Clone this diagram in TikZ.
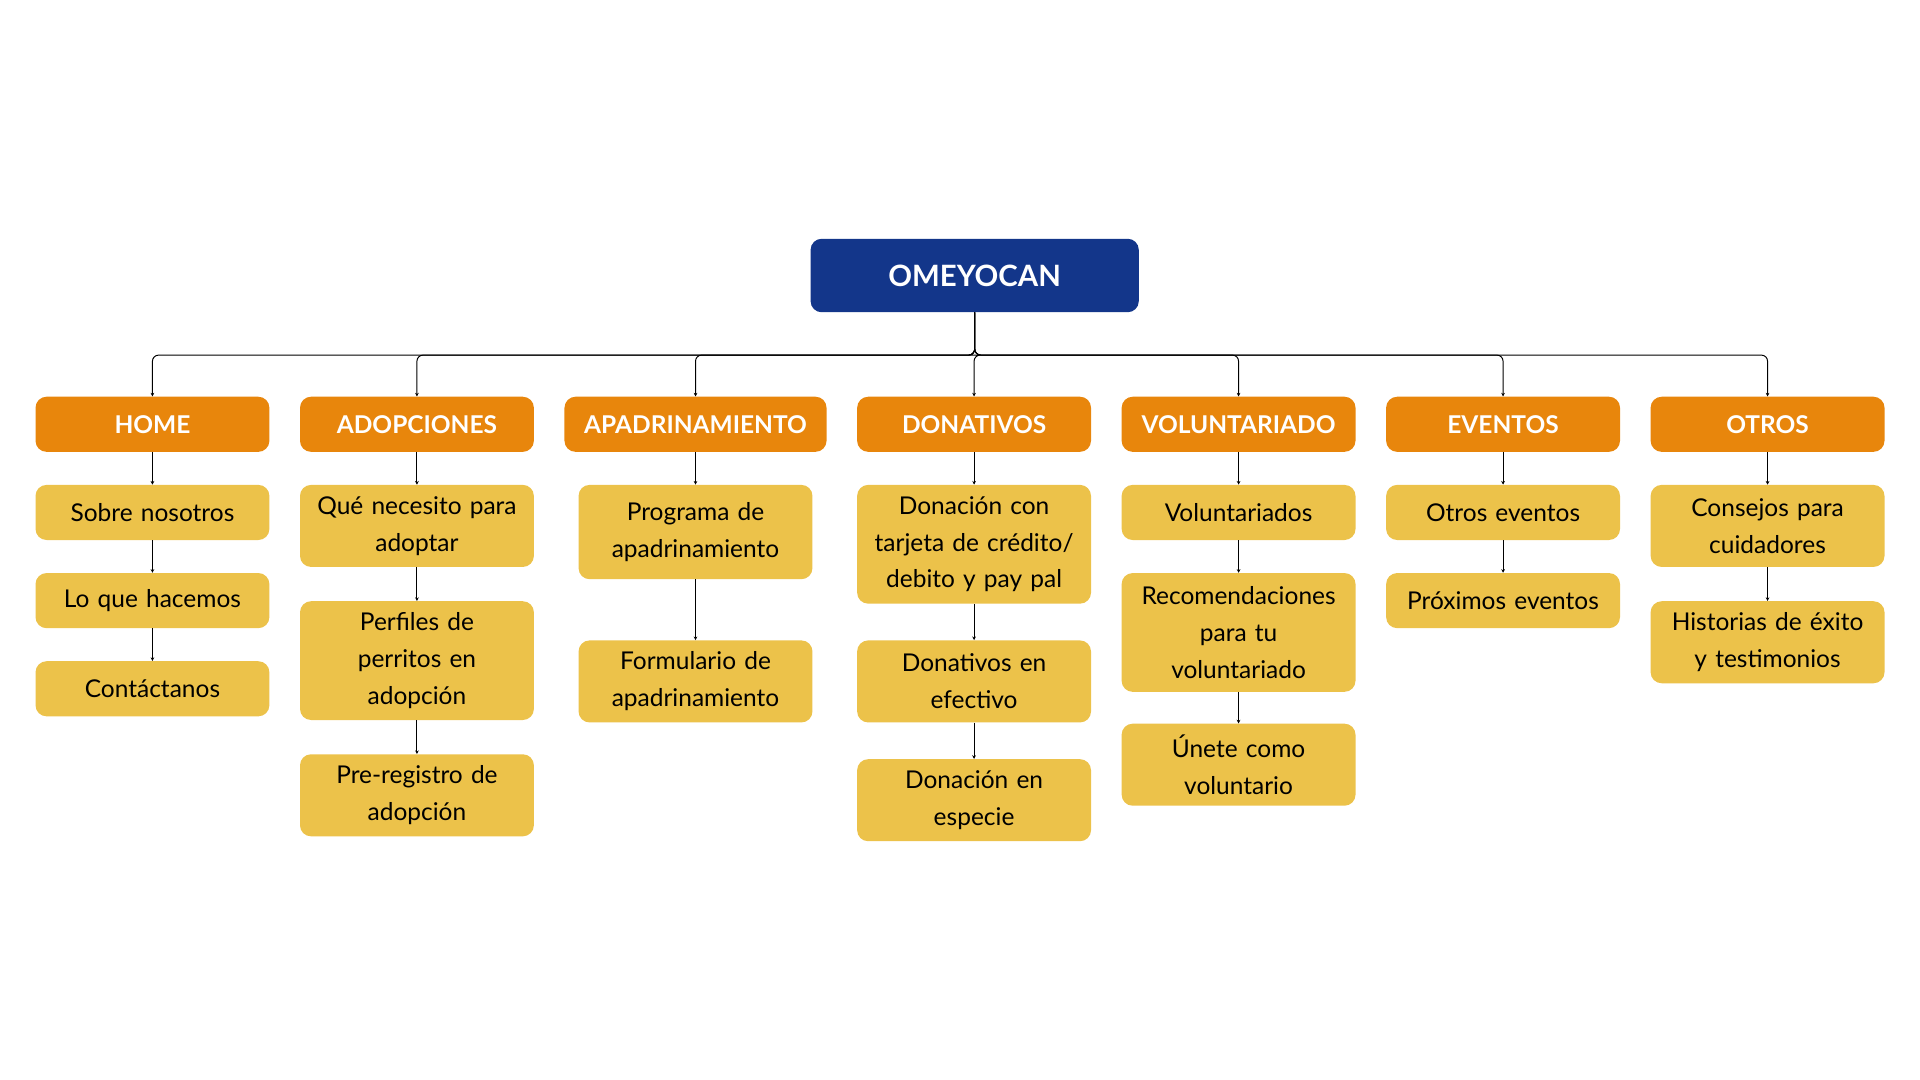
\documentclass[tikz,border=0pt]{standalone}
\usepackage{fontspec}
\setmainfont{Lato}
\usetikzlibrary{arrows.meta}
\definecolor{navy}{HTML}{13368A}
\definecolor{org}{HTML}{E8860C}
\definecolor{yel}{HTML}{ECC24A}
\tikzset{
 box/.style={rounded corners=9pt,inner sep=0pt,align=center,font=\fontsize{20}{30}\selectfont},
 cat/.style={box,fill=org,text=white,minimum width=191pt,minimum height=45pt,font=\fontsize{20}{24}\selectfont\bfseries},
 yb/.style={box,fill=yel,text=black,minimum width=191pt,text width=185pt},
 con/.style={draw=black,line width=0.8pt,-{Stealth[length=3pt,width=3pt]}},
}
\begin{document}
\begin{tikzpicture}[x=1pt,y=-1pt]
\useasboundingbox (0,0) rectangle (1568,882);
\node[box,fill=navy,text=white,minimum width=268pt,minimum height=60pt,font=\fontsize{24}{28}\selectfont\bfseries] (root) at (796,225) {OMEYOCAN};
\foreach \n/\x/\t/\w in {home/124.5/HOME/191,adop/340.5/ADOPCIONES/191,apad/568/APADRINAMIENTO/214,don/795.5/DONATIVOS/191,vol/1011.5/VOLUNTARIADO/191,ev/1227.5/EVENTOS/191,otr/1443.5/OTROS/191}{
 \node[cat,minimum width=\w pt] (\n) at (\x,346.5) {\t};
 \draw[con,rounded corners=5pt] (root.south) -- (796,290) -| (\n.north);
}
% children
\newcommand\yb[5]{\node[yb,minimum height=#3pt,#5] (#1) at (#2) {#4};}
\yb{h1}{124.5,418.5}{45}{Sobre nosotros}{}
\yb{h2}{124.5,490.5}{45}{Lo que hacemos}{}
\yb{h3}{124.5,562.5}{45}{Contáctanos}{}
\yb{a1}{340.5,429.5}{67}{Qué necesito para\\adoptar}{}
\yb{a2}{340.5,539.5}{97}{Perfiles de\\perritos en\\adopción}{}
\yb{a3}{340.5,649.5}{67}{Pre-registro de\\adopción}{}
\yb{p1}{568,434.5}{77}{Programa de\\apadrinamiento}{}
\yb{p2}{568,556.5}{67}{Formulario de\\apadrinamiento}{}
\yb{d1}{795.5,444.5}{97}{Donación con\\tarjeta de crédito/\\debito y pay pal}{}
\yb{d2}{795.5,556.5}{67}{Donativos en\\efectivo}{}
\yb{d3}{795.5,653.5}{67}{Donación en\\especie}{}
\yb{v1}{1011.5,418.5}{45}{Voluntariados}{}
\yb{v2}{1011.5,516.5}{97}{Recomendaciones\\para tu\\voluntariado}{}
\yb{v3}{1011.5,624.5}{67}{Únete como\\voluntario}{}
\yb{e1}{1227.5,418.5}{45}{Otros eventos}{}
\yb{e2}{1227.5,490.5}{45}{Próximos eventos}{}
\yb{o1}{1443.5,429.5}{67}{Consejos para\\cuidadores}{}
\yb{o2}{1443.5,524.5}{67}{Historias de éxito\\y testimonios}{}
\foreach \a/\b in {home/h1,h1/h2,h2/h3,adop/a1,a1/a2,a2/a3,apad/p1,p1/p2,don/d1,d1/d2,d2/d3,vol/v1,v1/v2,v2/v3,ev/e1,e1/e2,otr/o1,o1/o2}
 \draw[con] (\a.south) -- (\b.north);
\end{tikzpicture}
\end{document}
